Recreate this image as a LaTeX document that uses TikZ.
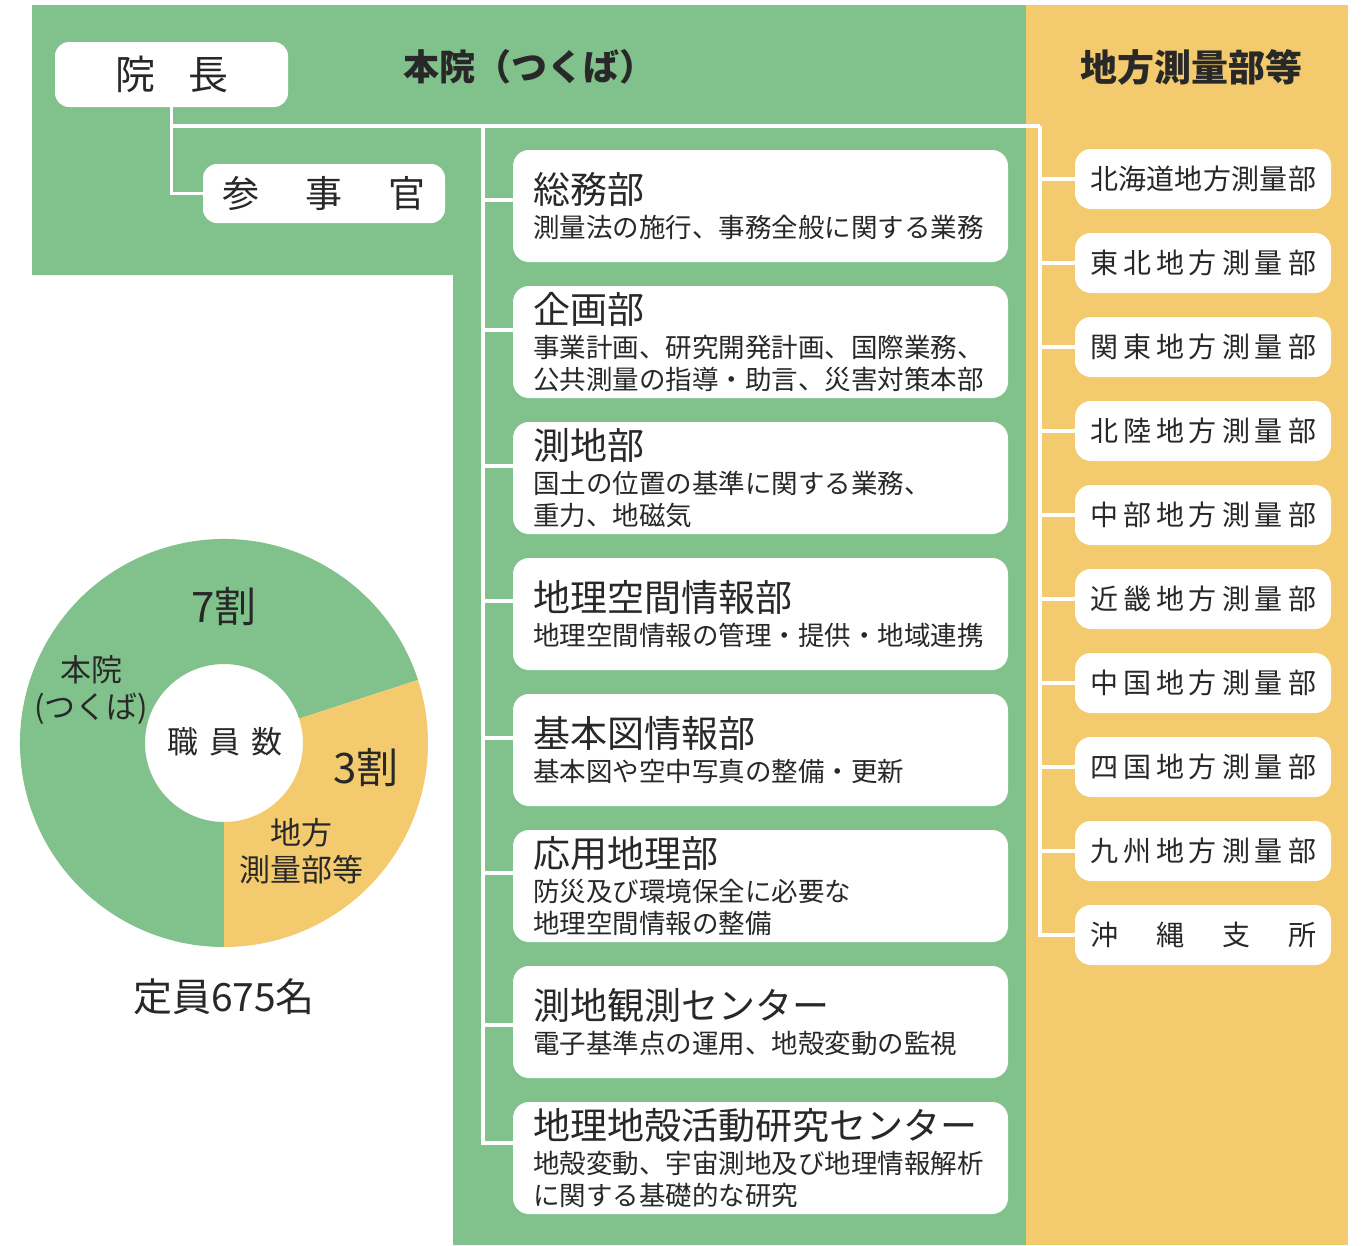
\documentclass[tikz,border=0pt]{standalone}
\usepackage{fontspec}
\setmainfont{Noto Sans CJK JP}
\usepackage{tikz}
\usetikzlibrary{positioning}
\definecolor{green}{RGB}{128, 193, 140}
\definecolor{yellow}{RGB}{243, 203, 110}
\definecolor{ink}{RGB}{40, 40, 40}
\newcommand{\dtitle}[1]{{\fontsize{37}{37}\selectfont #1}\\[2pt]}
\tikzstyle{head} = [text=ink, font=\bfseries\fontsize{36}{36}\selectfont]
\tikzstyle{chief} = [rectangle, rounded corners=14pt, fill=white, text=ink, inner sep=0pt, outer sep=0pt, minimum width=233pt, minimum height=65pt, font=\fontsize{40}{40}\selectfont]
\tikzstyle{dept} = [rectangle, rounded corners=16pt, fill=white, text=ink, text width=455pt, inner xsep=20pt, inner ysep=0pt, outer sep=0pt, minimum width=495pt, minimum height=112pt, align=left, font={\fontsize{26.5}{32}\selectfont\lineskiplimit=-100pt}]
\tikzstyle{branch} = [rectangle, rounded corners=16pt, fill=white, text=ink, inner sep=0pt, outer sep=0pt, minimum width=256pt, minimum height=60pt, font=\fontsize{28}{28}\selectfont]
\tikzstyle{pielabel} = [text=ink, align=center, font=\fontsize{31}{37}\selectfont]
\tikzstyle{ratio} = [text=ink, font=\fontsize{42}{42}\selectfont]
\tikzstyle{wline} = [draw=white, line width=3.5pt]

\begin{document}
\begin{tikzpicture}[x=1pt, y=-1pt]
\useasboundingbox (0,0) rectangle (1367,1245);

% backgrounds =============================
\fill[green] (32,5) -- (1026,5) -- (1026,1245) -- (453,1245) -- (453,275) -- (32,275) -- cycle;
\fill[yellow] (1026,5) rectangle (1348,1245);

\node[head] (honin) at (529,67) {本院（つくば）};
\node[head, font=\bfseries\fontsize{37}{37}\selectfont] (chiho) at (1191,67) {地方測量部等};

% head office =============================
\node[chief] (inchou) at (171.5,74.5) {\makebox[113pt]{院\hfill 長}};
\node[chief, minimum width=242pt, minimum height=59pt, font=\fontsize{37}{37}\selectfont] (sanji) at (324,193.5) {\makebox[203pt]{参\hfill 事\hfill 官}};

\node[dept] (soumu) at (760.5,206) {\dtitle{総務部}測量法の施行、事務全般に関する業務};
\node[dept, below=24pt of soumu] (kikaku) {\dtitle{企画部}事業計画、研究開発計画、国際業務、\\公共測量の指導・助言、災害対策本部};
\node[dept, below=24pt of kikaku] (sokuchi) {\dtitle{測地部}国土の位置の基準に関する業務、\\重力、地磁気};
\node[dept, below=24pt of sokuchi] (kukan) {\dtitle{地理空間情報部}地理空間情報の管理・提供・地域連携};
\node[dept, below=24pt of kukan] (kihonzu) {\dtitle{基本図情報部}基本図や空中写真の整備・更新};
\node[dept, below=24pt of kihonzu] (ouyou) {\dtitle{応用地理部}防災及び環境保全に必要な\\地理空間情報の整備};
\node[dept, below=24pt of ouyou] (kansoku) {\dtitle{測地観測センター}電子基準点の運用、地殻変動の監視};
\node[dept, below=24pt of kansoku] (kenkyu) {\dtitle{地理地殻活動研究センター}地殻変動、宇宙測地及び地理情報解析\\に関する基礎的な研究};

% regional offices ========================
\node[branch] (hokkaido) at (1203,179) {\makebox[226pt]{北\hfill 海\hfill 道\hfill 地\hfill 方\hfill 測\hfill 量\hfill 部}};
\node[branch, below=24pt of hokkaido] (tohoku) {\makebox[226pt]{東\hfill 北\hfill 地\hfill 方\hfill 測\hfill 量\hfill 部}};
\node[branch, below=24pt of tohoku] (kanto) {\makebox[226pt]{関\hfill 東\hfill 地\hfill 方\hfill 測\hfill 量\hfill 部}};
\node[branch, below=24pt of kanto] (hokuriku) {\makebox[226pt]{北\hfill 陸\hfill 地\hfill 方\hfill 測\hfill 量\hfill 部}};
\node[branch, below=24pt of hokuriku] (chubu) {\makebox[226pt]{中\hfill 部\hfill 地\hfill 方\hfill 測\hfill 量\hfill 部}};
\node[branch, below=24pt of chubu] (kinki) {\makebox[226pt]{近\hfill 畿\hfill 地\hfill 方\hfill 測\hfill 量\hfill 部}};
\node[branch, below=24pt of kinki] (chugoku) {\makebox[226pt]{中\hfill 国\hfill 地\hfill 方\hfill 測\hfill 量\hfill 部}};
\node[branch, below=24pt of chugoku] (shikoku) {\makebox[226pt]{四\hfill 国\hfill 地\hfill 方\hfill 測\hfill 量\hfill 部}};
\node[branch, below=24pt of shikoku] (kyushu) {\makebox[226pt]{九\hfill 州\hfill 地\hfill 方\hfill 測\hfill 量\hfill 部}};
\node[branch, below=24pt of kyushu] (okinawa) {\makebox[226pt]{沖\hfill 縄\hfill 支\hfill 所}};

% edges
\coordinate (trunk) at (171.5,126);
\coordinate (mid) at (483,126);
\coordinate (east) at (1040,126);
\draw[wline] (inchou.south) |- (sanji.west);
\draw[wline] (trunk) -- (east);
\draw[wline] (mid) |- ([yshift=6pt]soumu.west);
\draw[wline] (mid) |- ([yshift=12pt]kikaku.west);
\draw[wline] (mid) |- ([yshift=12pt]sokuchi.west);
\draw[wline] (mid) |- ([yshift=13pt]kukan.west);
\draw[wline] (mid) |- ([yshift=12pt]kihonzu.west);
\draw[wline] (mid) |- ([yshift=13pt]ouyou.west);
\draw[wline] (mid) |- ([yshift=-3pt]kansoku.west);
\draw[wline] (mid) |- ([yshift=15pt]kenkyu.west);
\draw[wline] (east) |- (hokkaido.west);
\draw[wline] (east) |- (tohoku.west);
\draw[wline] (east) |- (kanto.west);
\draw[wline] (east) |- (hokuriku.west);
\draw[wline] (east) |- (chubu.west);
\draw[wline] (east) |- (kinki.west);
\draw[wline] (east) |- (chugoku.west);
\draw[wline] (east) |- (shikoku.west);
\draw[wline] (east) |- (kyushu.west);
\draw[wline] (east) |- (okinawa.west);

% staff ring ==============================
\begin{scope}[shift={(224,743)}, y=1pt]
\fill[green] (18:204) arc[start angle=18, end angle=270, radius=204] -- (270:79) arc[start angle=270, end angle=18, radius=79] -- cycle;
\fill[yellow] (-90:204) arc[start angle=-90, end angle=18, radius=204] -- (18:79) arc[start angle=18, end angle=-90, radius=79] -- cycle;
\end{scope}
\node[ratio] (ratio7) at (224,607) {7割};
\node[ratio] (ratio3) at (366,768) {3割};
\node[pielabel] (lblhonin) at (91,690) {本院\\(つくば)};
\node[pielabel] (lblchiho) at (301,851) {地方\\測量部等};
\node[pielabel] (staff) at (225,742) {\makebox[116pt]{職\hfill 員\hfill 数}};
\node[text=ink, font=\fontsize{39}{39}\selectfont] (total) at (224,997) {定員675名};

\end{tikzpicture}
\end{document}
